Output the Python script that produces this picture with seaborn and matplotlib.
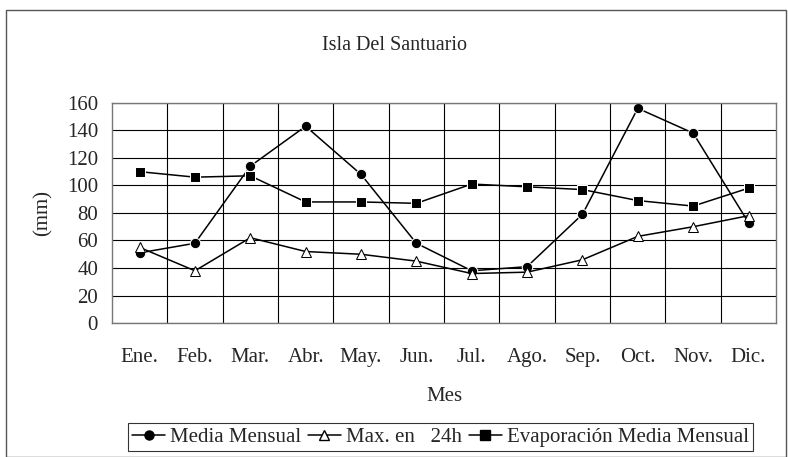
import matplotlib.pyplot as plt
import numpy as np
import pandas as pd
import seaborn as sns
from matplotlib.patches import Rectangle

meses = ['Ene.', 'Feb.', 'Mar.', 'Abr.', 'May.', 'Jun.',
         'Jul.', 'Ago.', 'Sep.', 'Oct.', 'Nov.', 'Dic.']
media_mensual = [51, 58, 114, 143, 108, 58, 38, 41, 79, 156, 138, 73]
max_24h = [55, 38, 62, 52, 50, 45, 36, 37, 46, 63, 70, 78]
evaporacion = [110, 106, 107, 88, 88, 87, 101, 99, 97, 89, 85, 98]

series = ['Media Mensual', 'Max. en   24h', 'Evaporación Media Mensual']
df = pd.DataFrame({
    'mes': np.tile(np.arange(len(meses)), 3),
    'valor': media_mensual + max_24h + evaporacion,
    'serie': np.repeat(series, len(meses)),
})

sns.set_style('white')
plt.rcParams['font.family'] = ['Liberation Serif', 'DejaVu Serif']
plt.rcParams['font.size'] = 15

fig = plt.figure(figsize=(7.88, 4.57), dpi=100)
ax = fig.add_axes([0.142, 0.293, 0.843, 0.482])

markers = {'Media Mensual': 'o', 'Max. en   24h': '^',
           'Evaporación Media Mensual': 's'}
sns.lineplot(data=df, x='mes', y='valor', hue='serie', style='serie',
             palette=['black'] * 3, markers=markers, dashes=False,
             markersize=7.5, linewidth=1.1, ax=ax, legend=False)
# hollow triangles
for line in ax.lines:
    if line.get_marker() == '^':
        line.set_markerfacecolor('white')
        line.set_markeredgecolor('black')
        line.set_markersize(7.5)

ax.set_xlim(-0.5, len(meses) - 0.5)
ax.set_ylim(0, 160)
ax.set_yticks(range(0, 161, 20))
ax.set_xticks(range(len(meses)))
ax.set_xticklabels(meses)
ax.set_xticks(np.arange(0.5, len(meses) - 1, 1), minor=True)
ax.grid(True, axis='y', color='black', linewidth=0.8)
ax.grid(True, axis='x', which='minor', color='black', linewidth=0.8)
ax.grid(False, axis='x', which='major')
ax.tick_params(axis='x', length=0, pad=18)
ax.tick_params(axis='y', length=0, pad=10)
for s in ax.spines.values():
    s.set_color('#777777')
    s.set_linewidth(1.0)
ax.set_axisbelow(True)

ax.set_xlabel('Mes', labelpad=14)
ax.set_ylabel('(mm)', labelpad=10)
fig.text(0.5, 0.9, 'Isla Del Santuario', ha='center', va='center',
         fontsize=14.5)

handles = [plt.Line2D([], [], color='black', marker='o', markersize=6.5, lw=1.1),
           plt.Line2D([], [], color='black', marker='^', markersize=6.5, lw=1.1,
                      markerfacecolor='white'),
           plt.Line2D([], [], color='black', marker='s', markersize=6.5, lw=1.1)]
leg = fig.legend(handles, series, loc='center', bbox_to_anchor=(0.559, 0.043),
                 ncol=3, frameon=True, fancybox=False, handlelength=1.6,
                 handletextpad=0.25, columnspacing=0.3, borderpad=0.2,
                 prop={'family': ['Liberation Serif'], 'size': 15})
leg.get_frame().set_edgecolor('black')
leg.get_frame().set_linewidth(0.8)

fig.patches.append(Rectangle((0.007, 0.0), 0.99, 0.978, transform=fig.transFigure,
                             fill=False, edgecolor='#555555', linewidth=1.0))

fig.savefig('out.png', dpi=100)
